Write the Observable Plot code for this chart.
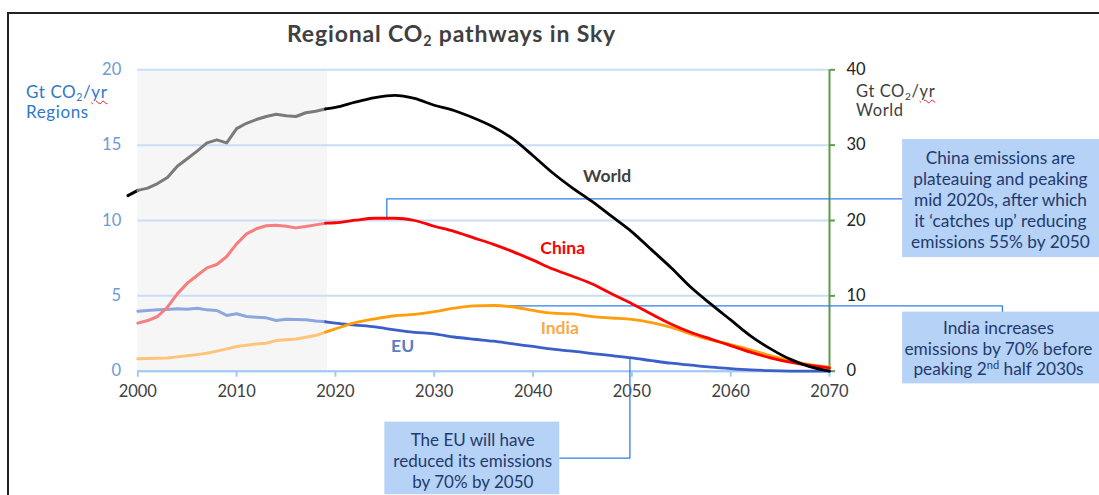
<!DOCTYPE html>
<html><head><meta charset="utf-8">
<script src="https://cdn.jsdelivr.net/npm/d3@7"></script>
<script src="https://cdn.jsdelivr.net/npm/@observablehq/plot@0.6"></script>
<style>
html,body{margin:0;padding:0;background:#fff;overflow:hidden;width:1099px;height:495px;}
#wrap{position:relative;width:1099px;height:495px;font-family:Lato,"Noto Sans",sans-serif;overflow:hidden;}
#frame{position:absolute;left:7px;top:12px;width:1200px;height:600px;border:2px solid #222;box-sizing:border-box;}
#chart{position:absolute;left:0;top:0;}
.lbl{position:absolute;white-space:nowrap;}
.title{left:287px;top:22px;font-size:23px;line-height:22px;font-weight:700;color:#404040;letter-spacing:0.85px;}
sub{font-size:0.62em;vertical-align:-0.25em;line-height:0;}
.yl{left:26px;top:82px;font-size:17px;line-height:20px;color:#2e78c7;letter-spacing:0.6px;}
.yr{left:856px;top:82px;font-size:16.5px;line-height:19px;color:#404040;letter-spacing:0.6px;}
.sq{text-decoration:underline wavy #e02020;text-decoration-thickness:1px;text-underline-offset:2px;}
</style></head>
<body><div id="wrap"><div id="frame"></div><div id="chart"></div>
<div class="lbl title">Regional CO<sub>2</sub> pathways in Sky</div>
<div class="lbl yl">Gt CO<sub>2</sub>/<span class="sq">yr</span><br>Regions</div>
<div class="lbl yr">Gt CO<sub>2</sub>/<span class="sq">yr</span><br>World</div>
</div>
<script>
// ---- tick values ----
const xTicks = [2000, 2010, 2020, 2030, 2040, 2050, 2060, 2070];
const leftTicks = [0, 5, 10, 15, 20];
const rightTickLabels = [0, 10, 20, 30, 40];
const histSpan = [2000, 2019.2];

// ---- historic data (Gt CO2/yr) ----
const histYears = [2000,2001,2002,2003,2004,2005,2006,2007,2008,2009,2010,2011,2012,2013,2014,2015,2016,2017,2018,2019];
const worldHist = [24.0,24.3,24.9,25.7,27.2,28.2,29.2,30.3,30.7,30.3,32.2,32.9,33.4,33.8,34.1,33.9,33.8,34.3,34.5,34.8];
const chinaHist = [3.19,3.36,3.63,4.25,5.13,5.84,6.35,6.86,7.08,7.61,8.45,9.11,9.45,9.65,9.69,9.62,9.51,9.60,9.71,9.82];
const euHist = [3.98,4.03,4.07,4.10,4.14,4.11,4.18,4.07,4.03,3.70,3.81,3.63,3.58,3.54,3.36,3.45,3.43,3.41,3.33,3.28];
const indiaHist = [0.82,0.84,0.86,0.88,0.95,1.02,1.10,1.19,1.33,1.48,1.64,1.72,1.81,1.86,2.03,2.08,2.14,2.25,2.37,2.59];
const worldStubYears = [1999, 2000];
const worldStub = [23.3, 24.0];

// ---- Sky pathway (Gt CO2/yr) ----
const projYears = [2019,2020,2022,2024,2026,2028,2030,2032,2034,2036,2038,2040,2042,2044,2046,2048,2050,2052,2054,2056,2058,2060,2062,2064,2066,2068,2070];
const worldProj = [34.8,35.0,35.7,36.3,36.6,36.2,35.3,34.6,33.6,32.4,30.8,28.6,26.3,24.3,22.5,20.5,18.5,16.1,13.7,11.1,8.9,6.8,4.7,3.0,1.6,0.6,0.0];
const chinaProj = [9.82,9.85,10.02,10.15,10.15,10.0,9.62,9.28,8.85,8.42,7.92,7.37,6.78,6.3,5.78,5.12,4.48,3.78,3.12,2.57,2.13,1.70,1.26,0.89,0.60,0.38,0.22];
const indiaProj = [2.59,2.81,3.22,3.48,3.68,3.77,3.95,4.18,4.33,4.36,4.26,4.03,3.85,3.8,3.62,3.53,3.44,3.22,2.90,2.46,2.07,1.76,1.42,1.04,0.71,0.44,0.27];
const euProj = [3.28,3.19,3.06,2.94,2.74,2.58,2.48,2.27,2.12,1.99,1.81,1.64,1.46,1.33,1.17,1.03,0.88,0.70,0.53,0.40,0.27,0.17,0.09,0.04,0.01,0.0,0.0];

// ---- callout texts ----
const chinaNote = "China emissions are\nplateauing and peaking\nmid 2020s, after which\nit \u2018catches up\u2019 reducing\nemissions 55% by 2050";
const indiaNote = "India increases\nemissions by 70% before\npeaking 2nd half 2030s";
const euNote = "The EU will have\nreduced its emissions\nby 70% by 2050";

const rows = (xs, vs) => xs.map((x, i) => ({x, v: vs[i]}));
const worldRatio = rightTickLabels[rightTickLabels.length - 1] / leftTicks[leftTicks.length - 1];
const wy = d => d.v / worldRatio;

const navy = "#1f3a6e", boxFill = "#b6d2f6", callout = "#2f80ed", green = "#5e9b4f";
const font = "Lato, 'Noto Sans', sans-serif";

const chart = Plot.plot({
  width: 1099, height: 495,
  marginLeft: 137.3, marginRight: 270, marginTop: 69.3, marginBottom: 124.3,
  x: {domain: [2000, 2070], label: null},
  y: {domain: [0, 20], label: null},
  style: {background: "transparent", fontFamily: font, fontSize: "16.5px", overflow: "visible"},
  marks: [
    Plot.rect([histSpan], {x1: d => d[0], x2: d => d[1], y1: 0, y2: 20, fill: "#f6f6f6"}),
    Plot.ruleY(leftTicks, {stroke: "#c8def6", strokeWidth: 2}),
    Plot.ruleY([0], {stroke: "#a2c9f2", strokeWidth: 2}),
    Plot.axisX({ticks: xTicks, tickFormat: d => String(d), tickSize: 6, tickPadding: 8, stroke: "#a2c9f2", strokeWidth: 2, fill: "#404040", label: null}),
    Plot.axisY({ticks: leftTicks, tickSize: 0, tickPadding: 16.6, fill: "#6c9ad5", label: null}),
    Plot.ruleX([2070], {y1: 0, y2: 20, stroke: green, strokeWidth: 2}),
    Plot.axisY({anchor: "right", ticks: leftTicks, tickFormat: (d, i) => rightTickLabels[i], tickSize: 5, tickPadding: 12, stroke: green, strokeWidth: 2, fill: "#222", label: null}),
    // callout connectors
    Plot.line([{x: 2025.2, y: 10.2}, {x: 2025.2, y: 11.44}, {x: 2077.4, y: 11.44}], {x: "x", y: "y", stroke: callout, strokeWidth: 1.3}),
    Plot.line([{x: 2035.9, y: 4.33}, {x: 2087.5, y: 4.33}, {x: 2087.5, y: 3.92}], {x: "x", y: "y", stroke: callout, strokeWidth: 1.3}),
    Plot.line([{x: 2049.8, y: 0.9}, {x: 2049.8, y: -5.77}, {x: 2042.7, y: -5.77}], {x: "x", y: "y", stroke: callout, strokeWidth: 1.3}),
    // series
    Plot.line(rows(histYears, euHist), {x: "x", y: "v", stroke: "#8ca7dd", strokeWidth: 3}),
    Plot.line(rows(projYears, euProj), {x: "x", y: "v", stroke: "#3a5fc8", strokeWidth: 2.8, curve: "monotone-x"}),
    Plot.line(rows(histYears, indiaHist), {x: "x", y: "v", stroke: "#fcc579", strokeWidth: 3}),
    Plot.line(rows(projYears, indiaProj), {x: "x", y: "v", stroke: "#ff9d0a", strokeWidth: 2.8, curve: "monotone-x"}),
    Plot.line(rows(histYears, chinaHist), {x: "x", y: "v", stroke: "#f67e7e", strokeWidth: 3}),
    Plot.line(rows(projYears, chinaProj), {x: "x", y: "v", stroke: "#ff0000", strokeWidth: 2.8, curve: "monotone-x"}),
    Plot.line(rows(worldStubYears, worldStub), {x: "x", y: wy, stroke: "#000", strokeWidth: 3}),
    Plot.line(rows(histYears, worldHist), {x: "x", y: wy, stroke: "#7a7a7a", strokeWidth: 3}),
    Plot.line(rows(projYears, worldProj), {x: "x", y: wy, stroke: "#000", strokeWidth: 2.8, curve: "monotone-x"}),
    // series labels
    Plot.text(["World"], {x: 2047.5, y: 12.95, text: d => d, fill: "#404040", fontWeight: "bold", fontSize: 17.5}),
    Plot.text(["China"], {x: 2043.0, y: 8.17, text: d => d, fill: "#ff0000", fontWeight: "bold", fontSize: 17.5}),
    Plot.text(["India"], {x: 2042.7, y: 2.87, text: d => d, fill: "#f9aa4c", fontWeight: "bold", fontSize: 17.5}),
    Plot.text(["EU"], {x: 2026.8, y: 1.66, text: d => d, fill: "#5a7fbf", fontWeight: "bold", fontSize: 17.5}),
    // callout boxes
    Plot.rect([0], {x1: 2077.4, x2: 2100, y1: 7.54, y2: 15.37, fill: boxFill}),
    Plot.rect([0], {x1: 2077.4, x2: 2100, y1: -0.84, y2: 3.92, fill: boxFill}),
    Plot.rect([0], {x1: 2025.0, x2: 2042.7, y1: -8.2, y2: -3.38, fill: boxFill}),
    Plot.text([chinaNote], {x: 2087.3, y: 11.42, text: d => d, fill: navy, fontSize: 17.3, lineHeight: 1.21}),
    Plot.text([indiaNote], {x: 2087.1, y: 1.55, text: d => d, fill: navy, fontSize: 17.3, lineHeight: 1.21}),
    Plot.text([euNote], {x: 2033.9, y: -5.89, text: d => d, fill: navy, fontSize: 17, lineHeight: 1.24})
  ]
});
document.getElementById("chart").appendChild(chart);

// superscript "nd"
const ns = "http://www.w3.org/2000/svg";
chart.querySelectorAll("tspan").forEach(t => {
  if (t.textContent.includes("2nd")) {
    const [a, b] = t.textContent.split("2nd");
    t.textContent = a + "2";
    const s = document.createElementNS(ns, "tspan");
    s.setAttribute("dy", "-6"); s.setAttribute("font-size", "11"); s.textContent = "nd";
    const r = document.createElementNS(ns, "tspan");
    r.setAttribute("dy", "6"); r.textContent = b;
    t.appendChild(s); t.appendChild(r);
  }
});
</script>
</body></html>
